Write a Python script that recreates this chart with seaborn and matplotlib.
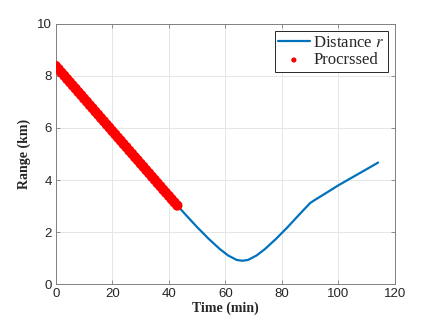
import numpy as np
import pandas as pd
import seaborn as sns
import matplotlib.pyplot as plt

# distance curve (min, km)
t_dist = [0, 5, 10, 15, 20, 25, 30, 35, 40, 43, 46, 50, 54, 58, 61, 64, 66,
          68, 71, 74, 78, 82, 86, 90, 92, 95, 100, 105, 110, 114]
r_dist = [8.38, 7.76, 7.13, 6.51, 5.88, 5.26, 4.63, 4.01, 3.39, 3.02, 2.66,
          2.19, 1.75, 1.35, 1.10, 0.93, 0.90, 0.93, 1.10, 1.35, 1.75, 2.19,
          2.66, 3.12, 3.26, 3.46, 3.80, 4.11, 4.42, 4.67]

# processed samples
t_proc = list(range(0, 44))
r_proc = [8.38, 8.26, 8.13, 8.01, 7.88, 7.76, 7.63, 7.51, 7.38, 7.26,
          7.13, 7.01, 6.88, 6.76, 6.63, 6.51, 6.38, 6.26, 6.13, 6.01,
          5.88, 5.76, 5.63, 5.51, 5.38, 5.26, 5.13, 5.01, 4.88, 4.76,
          4.63, 4.51, 4.38, 4.26, 4.13, 4.01, 3.88, 3.76, 3.63, 3.51,
          3.39, 3.26, 3.14, 3.02]

df_dist = pd.DataFrame({"t": t_dist, "r": r_dist})
df_proc = pd.DataFrame({"t": t_proc, "r": r_proc})

sns.set_style("whitegrid")
plt.rcParams["font.family"] = ["Liberation Sans", "DejaVu Sans"]
plt.rcParams["mathtext.fontset"] = "stix"

fig = plt.figure(figsize=(4.36, 3.27), dpi=100)
ax = fig.add_axes([0.128, 0.131, 0.778, 0.796])

sns.lineplot(data=df_dist, x="t", y="r", ax=ax, color="#0072BD", linewidth=1.6,
             label="Distance $r$")
sns.scatterplot(data=df_proc, x="t", y="r", ax=ax, color="red", s=55,
                edgecolor="none", label="Procrssed", zorder=3)

ax.set_xlim(0, 120)
ax.set_ylim(0, 10)
ax.set_xticks(range(0, 121, 20))
ax.set_yticks(range(0, 11, 2))
ax.grid(True, color="#e6e6e6", linewidth=0.7)
for s in ax.spines.values():
    s.set_visible(True)
    s.set_color("#808080")
    s.set_linewidth(0.7)
ax.tick_params(direction="in", length=3, width=0.6, color="#808080",
               labelsize=9.5, labelcolor="#262626", top=True, right=True,
               bottom=True, left=True, pad=3)

ax.set_xlabel("Time (min)", fontfamily="Liberation Serif", fontweight="bold",
              fontsize=10, labelpad=1)
ax.set_ylabel("Range (km)", fontfamily="Liberation Serif", fontweight="bold",
              fontsize=10, labelpad=4)

leg = ax.legend(loc="upper right", frameon=True, fancybox=False,
                prop={"family": "Liberation Serif", "size": 12},
                borderaxespad=0.45, handlelength=1.9, handletextpad=0.2,
                borderpad=0.2, labelspacing=0.1, markerscale=0.5)
leg.get_frame().set_edgecolor("#262626")
leg.get_frame().set_linewidth(0.7)
leg.get_frame().set_alpha(1)

fig.savefig("out.png", dpi=100)
